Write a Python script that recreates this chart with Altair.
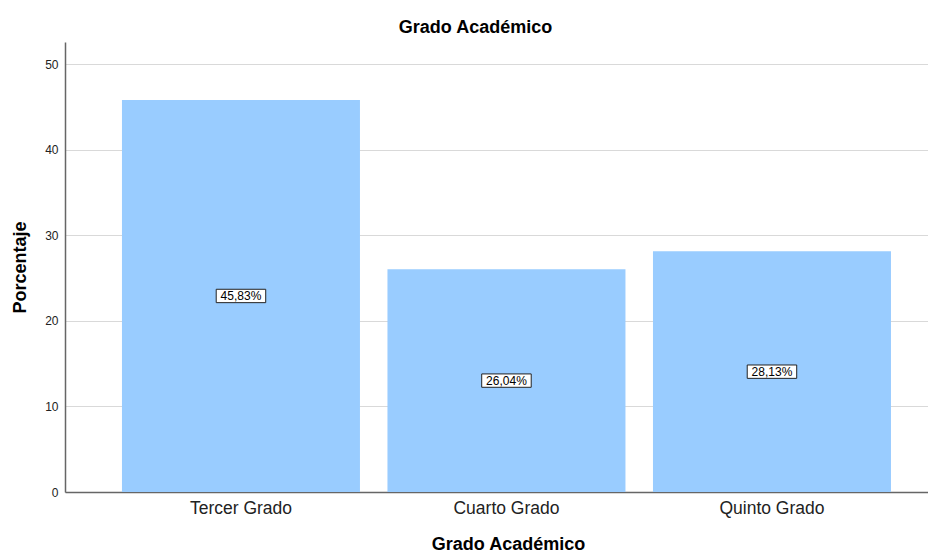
import altair as alt
import pandas as pd

categories = ["Tercer Grado", "Cuarto Grado", "Quinto Grado"]
values = [45.83, 26.04, 28.13]
labels = ["45,83%", "26,04%", "28,13%"]

df = pd.DataFrame({"cat": categories, "val": values, "lab": labels})
df["mid"] = df["val"] / 2

FONT = "Liberation Sans"

x = alt.X("cat:N", sort=categories,
          scale=alt.Scale(paddingInner=0.1036, paddingOuter=0.177, align=0.606),
          axis=alt.Axis(title="Grado Académico", labelAngle=0, ticks=False,
                        labelFontSize=17.5, labelColor="#222222", labelPadding=7,
                        titleFontSize=18, titleFontWeight="bold",
                        titleX=443, titleY=52, titleBaseline="middle", titleAlign="center",
                        domainColor="#666666", labelFont=FONT, titleFont=FONT,
                        titleColor="black", grid=False))

bars = alt.Chart(df).mark_bar(color="#99CCFF").encode(
    x=x,
    y=alt.Y("val:Q", scale=alt.Scale(domain=[0, 52.6], nice=False),
            axis=alt.Axis(title="Porcentaje", values=[0, 10, 20, 30, 40, 50],
                          ticks=False, labelFontSize=12, labelColor="#222222",
                          labelPadding=7, titleFontSize=18, titleFontWeight="bold",
                          titleX=-45, titleY=225, titleBaseline="middle", titleAlign="center",
                          titleAngle=-90, gridColor="#d9d9d9", domainColor="#666666",
                          labelFont=FONT, titleFont=FONT, titleColor="black")),
)

boxes = alt.Chart(df).mark_point(
    shape="M-1,-0.27L1,-0.27L1,0.27L-1,0.27Z", size=2450, filled=True,
    fill="white", stroke="#222222", strokeWidth=1, opacity=1
).encode(x=alt.X("cat:N", sort=categories), y="mid:Q")

texts = alt.Chart(df).mark_text(fontSize=12, font=FONT, color="black").encode(
    x=alt.X("cat:N", sort=categories), y="mid:Q", text="lab:N")

chart = (bars + boxes + texts).properties(
    width=863, height=450,
    autosize=alt.AutoSizeParams(type="none"),
    padding={"left": 57, "top": 34, "right": 0, "bottom": 60},
    title=alt.TitleParams("Grado Académico", fontSize=18, fontWeight="bold",
                          font=FONT, anchor="middle", dx=-21, offset=5, color="black"),
).configure_view(stroke=None).configure_axis(domainWidth=1.5)

chart.save("out.html", embed_options={"renderer": "svg", "actions": False})
